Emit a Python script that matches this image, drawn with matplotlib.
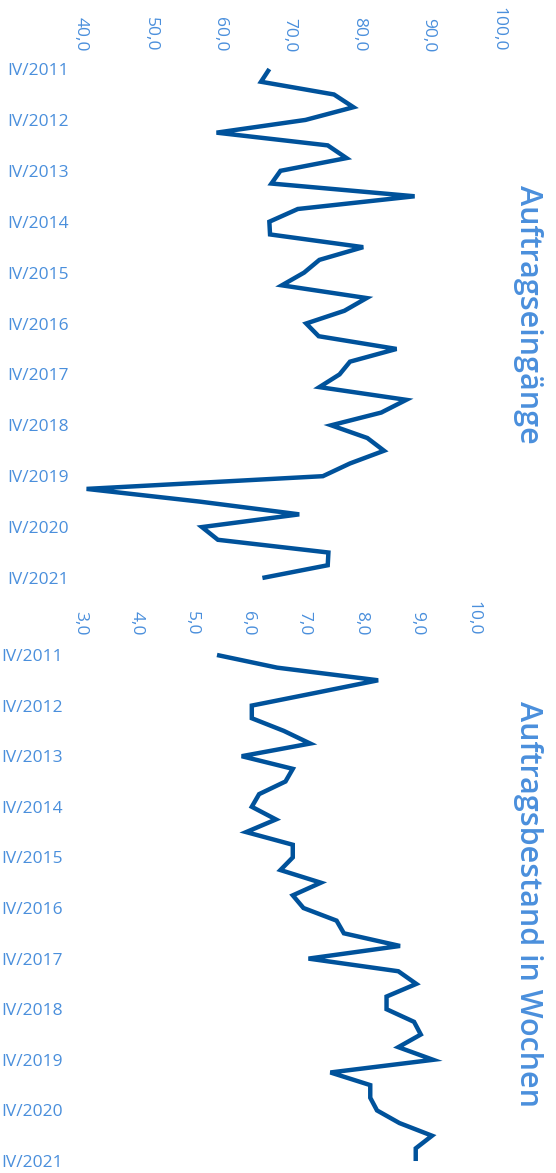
import matplotlib
matplotlib.use("Agg")
import matplotlib.pyplot as plt

# Quarterly series, IV/2011 .. IV/2021 (41 quarters)
quarters = [f"{q}/{y}" for y in range(2011, 2022) for q in ("I", "II", "III", "IV")][3:]

auftragseingaenge = [
    67.1, 65.9, 76.4, 79.2, 72.3, 59.5, 75.5, 78.2, 68.7, 67.4,
    88.0, 71.2, 67.1, 67.2, 80.6, 74.3, 72.1, 68.9, 81.1, 77.9,
    72.4, 74.2, 85.4, 78.7, 77.2, 74.3, 86.8, 83.2, 76.0, 81.2,
    83.6, 78.7, 74.8, 40.8, 57.1, 71.4, 57.4, 59.7, 75.6, 75.5,
    66.1,
]

auftragsbestand = [
    5.44, 6.51, 8.31, 7.19, 6.06, 6.06, 6.63, 7.10, 5.88, 6.79,
    6.66, 6.19, 6.06, 6.49, 5.96, 6.79, 6.79, 6.57, 7.29, 6.79,
    6.98, 7.57, 7.70, 8.70, 7.07, 8.67, 8.99, 8.46, 8.46, 8.95,
    9.07, 8.67, 9.29, 7.46, 8.17, 8.17, 8.29, 8.69, 9.27, 8.98,
    8.98,
]

top_ticks = [40, 50, 60, 70, 80, 90, 100]
bottom_ticks = [3, 4, 5, 6, 7, 8, 9, 10]
year_labels = [q for q in quarters if q.startswith("IV/")]
year_pos = [i for i, q in enumerate(quarters) if q.startswith("IV/")]

LINE = "#00529B"
TEXT = "#4A8FDC"
FONT = "Open Sans"

W, H = 556, 1173
fig = plt.figure(figsize=(W / 100, H / 100), dpi=100)
fig.patch.set_facecolor("white")


def px_axes(left, right, top, bottom):
    return fig.add_axes([left / W, 1 - bottom / H, (right - left) / W, (bottom - top) / H])


def style(ax, values, ticks, xlim, title, title_y, xpad, ypad, margin):
    n = len(values)
    ax.plot(values, range(n), color=LINE, lw=3.2, solid_joinstyle="miter",
            solid_capstyle="butt")
    ax.set_xlim(*xlim)
    ax.set_ylim(n - 1 + margin, -margin)
    ax.xaxis.tick_top()
    ax.set_xticks(ticks)
    ax.set_xticklabels([f"{t:.1f}".replace(".", ",") for t in ticks],
                       rotation=-90, fontsize=12.5, color=TEXT, family=FONT)
    ax.set_yticks(year_pos)
    ax.set_yticklabels(year_labels, fontsize=12.5, color=TEXT, family=FONT)
    ax.tick_params(axis="x", length=0, pad=xpad)
    ax.tick_params(axis="y", length=0, pad=ypad)
    for s in ax.spines.values():
        s.set_visible(False)
    fig.text(528 / W, 1 - title_y / H, title, rotation=-90, ha="center", va="center",
             fontsize=22, fontweight="semibold", color=TEXT, family=FONT)


ax1 = px_axes(81, 498, 60, 587)
style(ax1, auftragseingaenge, top_ticks, (40, 100), "Auftragseingänge", 314,
      xpad=5.8, ypad=8.6, margin=0.71)

ax2 = px_axes(80, 473, 646, 1170)
style(ax2, auftragsbestand, bottom_ticks, (3, 10), "Auftragsbestand in Wochen", 904,
      xpad=7.9, ypad=12.2, margin=0.71)

fig.savefig("out.png", dpi=100)
